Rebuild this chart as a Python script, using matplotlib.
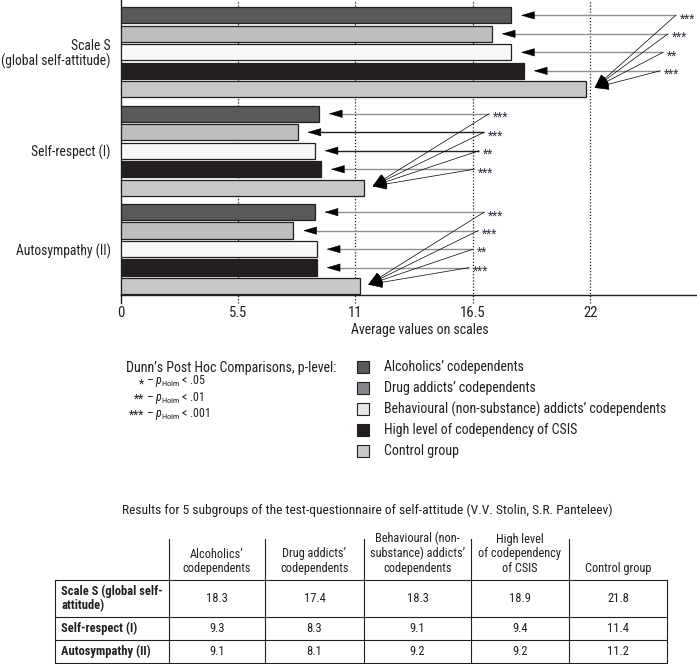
import matplotlib
matplotlib.use("Agg")
import matplotlib.pyplot as plt
from matplotlib import font_manager
from matplotlib.patches import Rectangle

# ---------------- data ----------------
scales = ["Scale S\n(global self-attitude)", "Self-respect (I)", "Autosympathy (II)"]
table_rows = ["Scale S (global self-\nattitude)", "Self-respect (I)", "Autosympathy (II)"]
groups = ["Alcoholics\u2019 codependents",
          "Drug addicts\u2019 codependents",
          "Behavioural (non-substance) addicts\u2019 codependents",
          "High level of codependency of CSIS",
          "Control group"]
table_headers = ["Alcoholics\u2019\ncodependents",
                 "Drug addicts\u2019\ncodependents",
                 "Behavioural (non-\nsubstance) addicts\u2019\ncodependents",
                 "High level\nof codependency\nof CSIS",
                 "Control group"]
alcoholics = [18.3, 9.3, 9.1]
drug_addicts = [17.4, 8.3, 8.1]
behavioural = [18.3, 9.1, 9.2]
high_csis = [18.9, 9.4, 9.2]
control = [21.8, 11.4, 11.2]
significance = [["***", "***", "**", "***"],
                ["***", "***", "**", "***"],
                ["***", "***", "**", "***"]]
xticks = [0, 5.5, 11, 16.5, 22]
p_stars = ["*", "**", "***"]
p_values = [".05", ".01", ".001"]
title_dunn = "Dunn\u2019s Post Hoc Comparisons, p-level:"
table_title = "Results for 5 subgroups of the test-questionnaire of self-attitude (V.V. Stolin, S.R. Panteleev)"
xlabel = "Average values on scales"

series = [alcoholics, drug_addicts, behavioural, high_csis, control]

# ---------------- styles ----------------
avail = {f.name for f in font_manager.fontManager.ttflist}
FONT = "DejaVu Sans"
for cand in ["Roboto Condensed", "Liberation Sans Narrow", "Open Sans Condensed", "Lato", "DejaVu Sans"]:
    if cand in avail:
        FONT = cand
        break
plt.rcParams["font.family"] = [FONT, "DejaVu Sans"]
plt.rcParams["mathtext.fontset"] = "custom"
plt.rcParams["mathtext.rm"] = FONT
plt.rcParams["mathtext.it"] = FONT + ":italic"
TXT = "#231f20"

bar_colors = ["#58595b", "#bcbec0", "#f7f8f7", "#231f20", "#c7c8ca"]
legend_colors = ["#58595b", "#86878a", "#e6e7e8", "#231f20", "#c8c9cb"]
hline_colors = [["#8f8f8f"] * 4,
                ["#8f8f8f", "#231f20", "#231f20", "#8f8f8f"],
                ["#8f8f8f"] * 4]
# layout of annotation tails (x in data units)
tails = [[26.0, 25.64, 25.41, 25.27],
         [17.26, 17.03, 16.79, 16.56],
         [17.03, 16.75, 16.51, 16.32]]
GROUP_STEP = 5.32
FIRST = 0.83
BAR_H = 0.88

W, H = 697, 664
fig = plt.figure(figsize=(W / 100, H / 100), dpi=100)
ax = fig.add_axes([120.5 / W, 1 - 295 / H, 1 - 120.5 / W, 295 / H])
ax.set_xlim(0, 27.0)
ax.set_ylim(15.95, 0)

def ypos(g, j):
    return FIRST + g * GROUP_STEP + j

for j, vals in enumerate(series):
    ys = [ypos(g, j) for g in range(len(scales))]
    ax.barh(ys, vals, height=BAR_H, color=bar_colors[j], edgecolor=TXT,
            linewidth=0.9, zorder=3)

# dotted gridlines extending below axis as ticks
for xt in xticks[1:]:
    ax.axvline(xt, ymin=-0.027, ymax=1, color=TXT, ls=(0, (1, 1.5)), lw=0.9,
               clip_on=False, zorder=1)
ax.axvline(0, ymin=-0.027, ymax=0, color=TXT, lw=1.0, clip_on=False)

ax.set_xticks(xticks)
ax.set_xticklabels([f"{t:g}" for t in xticks])
ax.set_yticks([ypos(g, 2) for g in range(len(scales))])
ax.set_yticklabels(scales, ha="right", linespacing=1.0)
ax.tick_params(axis="x", length=0, pad=8, labelsize=10.5, colors=TXT)
ax.tick_params(axis="y", length=0, pad=7, labelsize=9.8, colors=TXT)
for s in ["top", "right"]:
    ax.spines[s].set_visible(False)
for s in ["left", "bottom"]:
    ax.spines[s].set_color(TXT)
    ax.spines[s].set_linewidth(1.0)
ax.patch.set_alpha(0)

# significance arrows
for g in range(len(scales)):
    ctrl_tip = (control[g] + 0.4, ypos(g, 4) - 0.08)
    for j in range(4):
        y = ypos(g, j)
        tx = tails[g][j]
        tip = series[j][g] + 0.45
        ax.plot([tx, tip + 0.3], [y, y], color=hline_colors[g][j], lw=1.0,
                zorder=4, solid_capstyle="butt")
        ax.annotate("", xy=(tip, y), xytext=(tip + 0.6, y),
                    arrowprops=dict(arrowstyle="-|>,head_length=0.75,head_width=0.22",
                                    color="black", lw=0.4, mutation_scale=12,
                                    shrinkA=0, shrinkB=0), zorder=5)
        ax.annotate("", xy=ctrl_tip, xytext=(tx, y),
                    arrowprops=dict(arrowstyle="-|>,head_length=0.7,head_width=0.28",
                                    color="black", lw=0.5, mutation_scale=13,
                                    shrinkA=0, shrinkB=0), zorder=5,
                    annotation_clip=False)
        ax.annotate(significance[g][j], xy=(tx, y), xytext=(3, -2.5),
                    textcoords="offset points", ha="left", va="center",
                    fontsize=8.5, color="#333344", annotation_clip=False)

# ---------------- overlay (pixel coords) ----------------
ov = fig.add_axes([0, 0, 1, 1])
ov.set_xlim(0, W)
ov.set_ylim(H, 0)
ov.axis("off")

ov.text(420, 330, xlabel, ha="center", va="center", fontsize=10, color=TXT)

ov.text(126, 368, title_dunn, ha="left", va="center", fontsize=10, color=TXT)
ov.text(144, 399.5, "\n".join(p_stars), ha="right", va="center", fontsize=8.5,
        color=TXT, multialignment="right", linespacing=1.28)
ov.text(146, 397.5, "\n".join("\u2013 $p_{\\mathrm{Holm}}$ < " + v for v in p_values),
        ha="left", va="center", fontsize=8.6, color=TXT, linespacing=1.045)

for i, (lab, col) in enumerate(zip(groups, legend_colors)):
    yy = 367 + i * 21
    ov.add_patch(Rectangle((357, yy - 6), 12, 12, facecolor=col, edgecolor=TXT, lw=0.8))
    ov.text(384, yy, lab, ha="left", va="center", fontsize=10, color=TXT)

ov.text(367, 510, table_title, ha="center", va="center", fontsize=9.7, color=TXT)

# table
col_edges = [55, 169, 265, 364, 471, 569, 667]
row_edges = [580, 617, 640, 663]
LW = 0.8
for x in col_edges[1:-1]:
    ov.plot([x, x], [539, 663], color=TXT, lw=LW)
for x in (col_edges[0], col_edges[-1]):
    ov.plot([x, x], [580, 663], color=TXT, lw=LW)
for y in row_edges:
    ov.plot([col_edges[0], col_edges[-1]], [y, y], color=TXT, lw=LW)

for c, hd in enumerate(table_headers):
    cx = (col_edges[c + 1] + col_edges[c + 2]) / 2
    ov.text(cx, 572, hd, ha="center", va="baseline", fontsize=8.8, color=TXT,
            linespacing=1.15, multialignment="center")

for r, lab in enumerate(table_rows):
    cy = (row_edges[r] + row_edges[r + 1]) / 2
    ov.text(61, cy, lab, ha="left", va="center", fontsize=9, color=TXT,
            fontweight="semibold", linespacing=1.05)
    for c, vals in enumerate(series):
        cx = (col_edges[c + 1] + col_edges[c + 2]) / 2
        ov.text(cx, cy, f"{vals[r]:.1f}", ha="center", va="center", fontsize=9,
                color=TXT)

fig.savefig("out.png", dpi=100)
